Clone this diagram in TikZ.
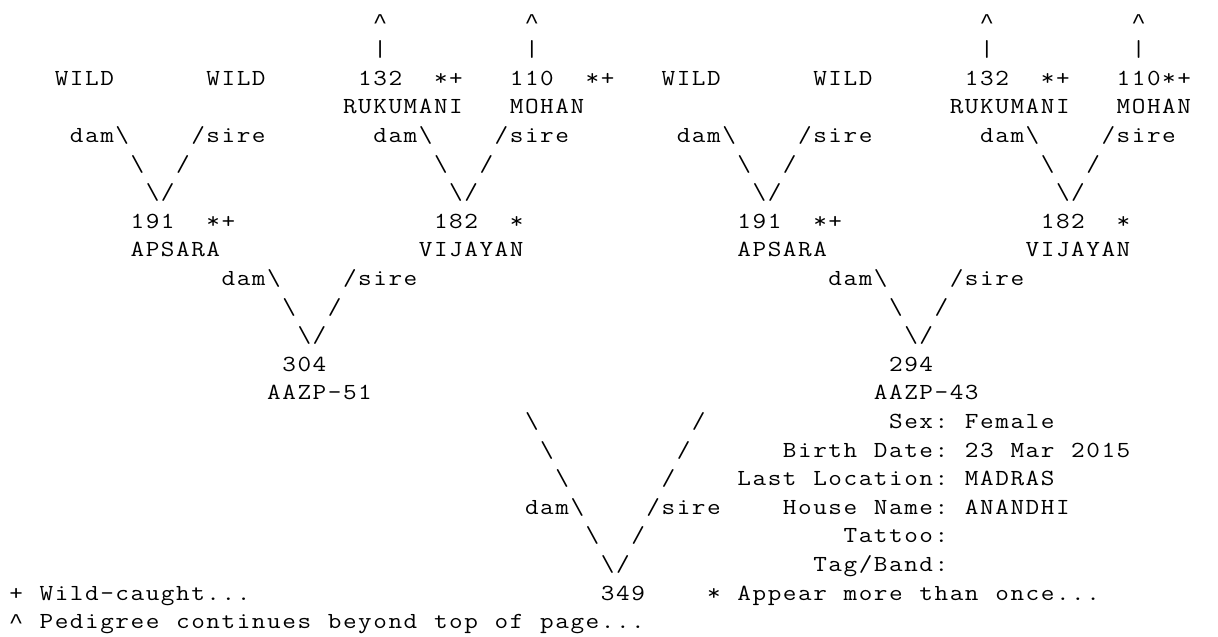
\documentclass[tikz,border=0pt]{standalone}
\usepackage{fontspec}
\newfontfamily\caretfont{Liberation Mono}
\makeatletter
\def\spread#1{\spread@#1\@nil}
\def\spread@#1{\ifx#1\@nil\else\makebox[15.17pt][c]{\scalebox{1.15}[1]{#1}}\expandafter\spread@\fi}
\makeatother
\tikzset{tt/.style={anchor=base west, inner sep=0pt, outer sep=0pt,
  font=\ttfamily\fontsize{23}{28.6}\selectfont, text=black}}
\newcommand\tok[4]{\node[tt] (#1) at ({(8.5+#2*15.17)*1pt},{(-28-#3*28.6)*1pt}) {\spread{#4}};}
\newcommand\bs{\textbackslash}
\newcommand\crt{{\caretfont\fontsize{21}{28.6}\selectfont\symbol{94}}}
\begin{document}
\begin{tikzpicture}
\fill[white] (0,0) rectangle (1218pt,-637pt);
\useasboundingbox (0,0) rectangle (1218pt,-637pt);
% row 0
\tok{r0c24}{24}{0}{\crt}
\tok{r0c34}{34}{0}{\crt}
\tok{r0c64}{64}{0}{\crt}
\tok{r0c74}{74}{0}{\crt}
% row 1
\tok{r1c24}{24}{1}{|}
\tok{r1c34}{34}{1}{|}
\tok{r1c64}{64}{1}{|}
\tok{r1c74}{74}{1}{|}
% row 2
\tok{r2c3}{3}{2}{WILD}
\tok{r2c13}{13}{2}{WILD}
\tok{r2c23}{23}{2}{132}
\tok{r2c28}{28}{2}{*+}
\tok{r2c33}{33}{2}{110}
\tok{r2c38}{38}{2}{*+}
\tok{r2c43}{43}{2}{WILD}
\tok{r2c53}{53}{2}{WILD}
\tok{r2c63}{63}{2}{132}
\tok{r2c68}{68}{2}{*+}
\tok{r2c73}{73}{2}{110*+}
% row 3
\tok{r3c22}{22}{3}{RUKUMANI}
\tok{r3c33}{33}{3}{MOHAN}
\tok{r3c62}{62}{3}{RUKUMANI}
\tok{r3c73}{73}{3}{MOHAN}
% row 4
\tok{r4c4}{4}{4}{dam\bs}
\tok{r4c12}{12}{4}{/sire}
\tok{r4c24}{24}{4}{dam\bs}
\tok{r4c32}{32}{4}{/sire}
\tok{r4c44}{44}{4}{dam\bs}
\tok{r4c52}{52}{4}{/sire}
\tok{r4c64}{64}{4}{dam\bs}
\tok{r4c72}{72}{4}{/sire}
% row 5
\tok{r5c8}{8}{5}{\bs}
\tok{r5c11}{11}{5}{/}
\tok{r5c28}{28}{5}{\bs}
\tok{r5c31}{31}{5}{/}
\tok{r5c48}{48}{5}{\bs}
\tok{r5c51}{51}{5}{/}
\tok{r5c68}{68}{5}{\bs}
\tok{r5c71}{71}{5}{/}
% row 6
\tok{r6c9}{9}{6}{\bs/}
\tok{r6c29}{29}{6}{\bs/}
\tok{r6c49}{49}{6}{\bs/}
\tok{r6c69}{69}{6}{\bs/}
% row 7
\tok{r7c8}{8}{7}{191}
\tok{r7c13}{13}{7}{*+}
\tok{r7c28}{28}{7}{182}
\tok{r7c33}{33}{7}{*}
\tok{r7c48}{48}{7}{191}
\tok{r7c53}{53}{7}{*+}
\tok{r7c68}{68}{7}{182}
\tok{r7c73}{73}{7}{*}
% row 8
\tok{r8c8}{8}{8}{APSARA}
\tok{r8c27}{27}{8}{VIJAYAN}
\tok{r8c48}{48}{8}{APSARA}
\tok{r8c67}{67}{8}{VIJAYAN}
% row 9
\tok{r9c14}{14}{9}{dam\bs}
\tok{r9c22}{22}{9}{/sire}
\tok{r9c54}{54}{9}{dam\bs}
\tok{r9c62}{62}{9}{/sire}
% row 10
\tok{r10c18}{18}{10}{\bs}
\tok{r10c21}{21}{10}{/}
\tok{r10c58}{58}{10}{\bs}
\tok{r10c61}{61}{10}{/}
% row 11
\tok{r11c19}{19}{11}{\bs/}
\tok{r11c59}{59}{11}{\bs/}
% row 12
\tok{r12c18}{18}{12}{304}
\tok{r12c58}{58}{12}{294}
% row 13
\tok{r13c17}{17}{13}{AAZP-51}
\tok{r13c57}{57}{13}{AAZP-43}
% row 14
\tok{r14c34}{34}{14}{\bs}
\tok{r14c45}{45}{14}{/}
\tok{r14c58}{58}{14}{Sex:}
\tok{r14c63}{63}{14}{Female}
% row 15
\tok{r15c35}{35}{15}{\bs}
\tok{r15c44}{44}{15}{/}
\tok{r15c51}{51}{15}{Birth}
\tok{r15c57}{57}{15}{Date:}
\tok{r15c63}{63}{15}{23}
\tok{r15c66}{66}{15}{Mar}
\tok{r15c70}{70}{15}{2015}
% row 16
\tok{r16c36}{36}{16}{\bs}
\tok{r16c43}{43}{16}{/}
\tok{r16c48}{48}{16}{Last}
\tok{r16c53}{53}{16}{Location:}
\tok{r16c63}{63}{16}{MADRAS}
% row 17
\tok{r17c34}{34}{17}{dam\bs}
\tok{r17c42}{42}{17}{/sire}
\tok{r17c51}{51}{17}{House}
\tok{r17c57}{57}{17}{Name:}
\tok{r17c63}{63}{17}{ANANDHI}
% row 18
\tok{r18c38}{38}{18}{\bs}
\tok{r18c41}{41}{18}{/}
\tok{r18c55}{55}{18}{Tattoo:}
% row 19
\tok{r19c39}{39}{19}{\bs/}
\tok{r19c53}{53}{19}{Tag/Band:}
% row 20
\tok{r20c0}{0}{20}{+}
\tok{r20c2}{2}{20}{Wild-caught...}
\tok{r20c39}{39}{20}{349}
\tok{r20c46}{46}{20}{*}
\tok{r20c48}{48}{20}{Appear}
\tok{r20c55}{55}{20}{more}
\tok{r20c60}{60}{20}{than}
\tok{r20c65}{65}{20}{once...}
% row 21
\tok{r21c0}{0}{21}{\crt}
\tok{r21c2}{2}{21}{Pedigree}
\tok{r21c11}{11}{21}{continues}
\tok{r21c21}{21}{21}{beyond}
\tok{r21c28}{28}{21}{top}
\tok{r21c32}{32}{21}{of}
\tok{r21c35}{35}{21}{page...}
\end{tikzpicture}
\end{document}
